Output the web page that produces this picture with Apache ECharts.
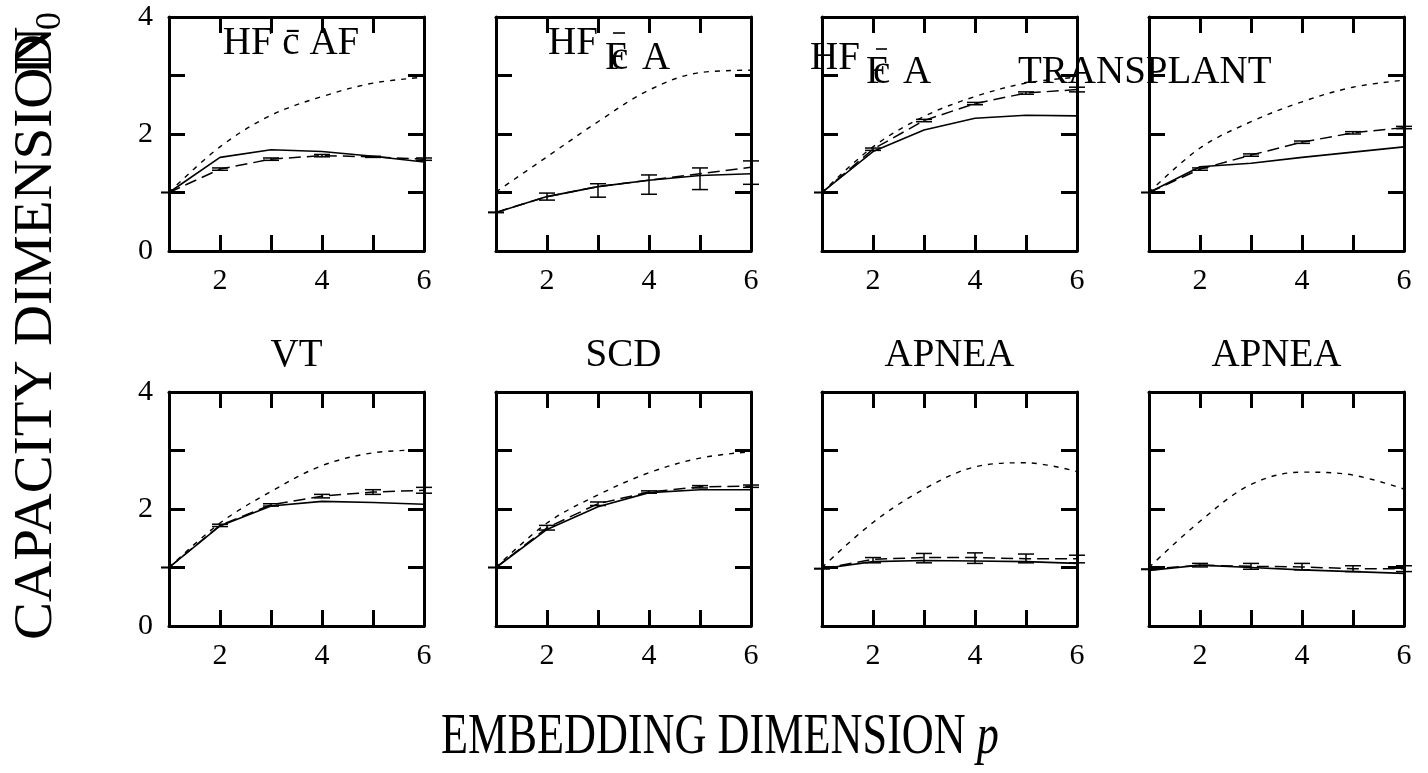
<!DOCTYPE html>
<html>
<head>
<meta charset="utf-8">
<script src="https://cdn.jsdelivr.net/npm/echarts@6/dist/echarts.min.js"></script>
<style>
html,body{margin:0;padding:0;background:#fff;}
#main{width:1428px;height:773px;}
</style>
</head>
<body>
<div id="main"></div>
<script>
// ---------------- data ----------------
const pValues = [1, 2, 3, 4, 5, 6];
const xTickLabels = ['2', '4', '6'];
const yTickLabels = ['0', '2', '4'];
const panelTitles = ['HF c\u0304 AF', 'HF c\u0304 A', 'HF c\u0304 A', 'TRANSPLANT', 'VT', 'SCD', 'APNEA', 'APNEA'];

// solid line (data)
const solidLines = [
  [1.00, 1.60, 1.73, 1.70, 1.62, 1.52],
  [0.66, 0.93, 1.10, 1.21, 1.29, 1.32],
  [1.00, 1.70, 2.07, 2.27, 2.32, 2.31],
  [1.00, 1.44, 1.50, 1.60, 1.69, 1.78],
  [1.00, 1.71, 2.05, 2.13, 2.11, 2.08],
  [1.00, 1.65, 2.04, 2.28, 2.33, 2.33],
  [0.98, 1.10, 1.12, 1.11, 1.10, 1.07],
  [0.95, 1.04, 1.00, 0.96, 0.93, 0.90]
];
// long-dashed line (surrogate mean)
const dashedLines = [
  [1.00, 1.40, 1.57, 1.63, 1.61, 1.57],
  [0.66, 0.93, 1.10, 1.21, 1.32, 1.43],
  [1.00, 1.74, 2.23, 2.52, 2.70, 2.76],
  [1.00, 1.40, 1.64, 1.86, 2.02, 2.11],
  [1.00, 1.72, 2.07, 2.22, 2.29, 2.32],
  [1.00, 1.68, 2.09, 2.29, 2.38, 2.39],
  [0.98, 1.14, 1.17, 1.17, 1.15, 1.15],
  [0.97, 1.04, 1.02, 1.01, 0.98, 0.98]
];
// error bar lower bounds
const errLow = [
  [0.995, 1.38, 1.55, 1.61, 1.60, 1.55],
  [0.655, 0.87, 0.92, 0.97, 1.05, 1.14],
  [0.995, 1.72, 2.21, 2.50, 2.68, 2.72],
  [0.995, 1.38, 1.62, 1.84, 2.00, 2.09],
  [0.995, 1.70, 2.05, 2.19, 2.25, 2.27],
  [0.995, 1.64, 2.06, 2.27, 2.36, 2.37],
  [0.975, 1.08, 1.08, 1.07, 1.08, 1.08],
  [0.965, 1.01, 0.97, 0.96, 0.93, 0.93]
];
// error bar upper bounds
const errHigh = [
  [1.005, 1.42, 1.59, 1.65, 1.62, 1.59],
  [0.665, 0.99, 1.15, 1.30, 1.42, 1.54],
  [1.005, 1.76, 2.25, 2.54, 2.72, 2.80],
  [1.005, 1.42, 1.66, 1.88, 2.04, 2.13],
  [1.005, 1.74, 2.09, 2.25, 2.33, 2.37],
  [1.005, 1.72, 2.12, 2.31, 2.40, 2.41],
  [0.985, 1.17, 1.24, 1.25, 1.23, 1.21],
  [0.975, 1.07, 1.07, 1.07, 1.03, 1.03]
];
// short-dashed line
const shortDashedLines = [
  [1.00, 1.78, 2.32, 2.64, 2.87, 2.97],
  [1.01, 1.61, 2.21, 2.75, 3.05, 3.09],
  [1.00, 1.78, 2.30, 2.64, 2.87, 2.97],
  [1.00, 1.76, 2.21, 2.55, 2.80, 2.92],
  [1.00, 1.76, 2.30, 2.74, 2.96, 3.01],
  [1.00, 1.76, 2.24, 2.62, 2.87, 2.98],
  [1.00, 1.77, 2.34, 2.72, 2.79, 2.64],
  [1.00, 1.79, 2.42, 2.63, 2.58, 2.34]
];
const xAxisTitle = 'EMBEDDING DIMENSION ';
const xAxisTitleVar = 'p';
const yAxisTitle = 'CAPACITY DIMENSION';
const yAxisTitleSym = 'D';
const yAxisTitleSub = '0';

// ---------------- layout ----------------
const FONT = "'Liberation Serif', 'DejaVu Serif', serif";
const lefts = [169, 496, 822, 1149];
const tops = [17, 392];
const W = 255, H = 234;

const grids = [], xAxes = [], yAxes = [], series = [];
for (let i = 0; i < 8; i++) {
  const col = i % 4, row = Math.floor(i / 4);
  grids.push({ left: lefts[col], top: tops[row], width: W, height: H, containLabel: false });
  const axLine = { show: true, onZero: false, lineStyle: { color: '#000', width: 3 } };
  const tick = { show: true, inside: true, length: 16, lineStyle: { color: '#000', width: 3 } };
  xAxes.push({
    type: 'value', gridIndex: i, position: 'bottom', min: 1, max: 6, interval: 1,
    axisLine: axLine, axisTick: tick, splitLine: { show: false },
    axisLabel: {
      show: true, margin: 15, color: '#000', fontFamily: FONT, fontSize: 30,
      showMinLabel: true, showMaxLabel: true,
      formatter: v => (xTickLabels.indexOf(String(v)) >= 0 ? String(v) : '')
    }
  });
  xAxes.push({
    type: 'value', gridIndex: i, position: 'top', min: 1, max: 6, interval: 1,
    axisLine: axLine, axisTick: tick, splitLine: { show: false }, axisLabel: { show: false }
  });
  yAxes.push({
    type: 'value', gridIndex: i, position: 'left', min: 0, max: 4, interval: 1,
    axisLine: axLine, axisTick: tick, splitLine: { show: false },
    axisLabel: {
      show: col === 0, margin: 16, color: '#000', fontFamily: FONT, fontSize: 30,
      showMinLabel: true, showMaxLabel: true,
      formatter: v => (yTickLabels.indexOf(String(v)) >= 0 ? String(v) : '')
    }
  });
  yAxes.push({
    type: 'value', gridIndex: i, position: 'right', min: 0, max: 4, interval: 1,
    axisLine: axLine, axisTick: tick, splitLine: { show: false }, axisLabel: { show: false }
  });
  const xi = 2 * i, yi = 2 * i;
  series.push({
    type: 'line', xAxisIndex: xi, yAxisIndex: yi, symbol: 'none', silent: true,
    data: pValues.map((p, k) => [p, shortDashedLines[i][k]]), smooth: 0.35,
    lineStyle: { color: '#000', width: 1.4, type: [5, 6] }, z: 3
  });
  series.push({
    type: 'line', xAxisIndex: xi, yAxisIndex: yi, symbol: 'none', silent: true,
    data: pValues.map((p, k) => [p, dashedLines[i][k]]),
    lineStyle: { color: '#000', width: 1.5, type: [12, 6] }, z: 3
  });
  series.push({
    type: 'line', xAxisIndex: xi, yAxisIndex: yi, symbol: 'none', silent: true,
    data: pValues.map((p, k) => [p, solidLines[i][k]]),
    lineStyle: { color: '#000', width: 1.6, type: 'solid' }, z: 3
  });
  series.push({
    type: 'custom', xAxisIndex: xi, yAxisIndex: yi, silent: true, clip: false, z: 4,
    data: pValues.map((p, k) => [p, errLow[i][k], errHigh[i][k]]),
    encode: { x: 0, y: [1, 2] },
    renderItem: function (params, api) {
      const lo = api.coord([api.value(0), api.value(1)]);
      const hi = api.coord([api.value(0), api.value(2)]);
      const hw = 8;
      const st = { stroke: '#000', lineWidth: 1.5 };
      return {
        type: 'group',
        children: [
          { type: 'line', shape: { x1: lo[0], y1: lo[1], x2: hi[0], y2: hi[1] }, style: st },
          { type: 'line', shape: { x1: lo[0] - hw, y1: lo[1], x2: lo[0] + hw, y2: lo[1] }, style: st },
          { type: 'line', shape: { x1: hi[0] - hw, y1: hi[1], x2: hi[0] + hw, y2: hi[1] }, style: st }
        ]
      };
    }
  });
}

// ---------------- titles (as text) ----------------
const TFS = 39;
const tfont = TFS + 'px ' + FONT;
function txt(s, x, y, align, extra) {
  return Object.assign({
    type: 'text', x: x, y: y, silent: true, z: 10,
    style: { text: s, font: tfont, fill: '#000', textAlign: align || 'left', textVerticalAlign: 'middle' }
  }, extra || {});
}
function bar(x1, x2, y) {
  return { type: 'line', silent: true, z: 10, shape: { x1: x1, y1: y, x2: x2, y2: y }, style: { stroke: '#000', lineWidth: 1.6 } };
}
const cBar = panelTitles[1].split(' ')[1];   // 'c̄'
const graphics = [
  // panel 1
  txt(panelTitles[0], 291, 44, 'center'),
  // panel 2 (overlapping pieces as in the original)
  txt(panelTitles[1].split(' ')[0], 548, 44),
  txt('F', 605, 59),
  txt(cBar.charAt(0), 611, 59),
  bar(613, 625, 33),
  txt(panelTitles[1].split(' ')[2], 642, 59),
  // panel 3
  txt(panelTitles[2].split(' ')[0], 810, 59),
  txt('F', 866, 73),
  txt(cBar.charAt(0), 873, 73),
  bar(876, 887, 49),
  txt(panelTitles[2].split(' ')[2], 903, 73),
  // panel 4 title (spills into panel 3)
  txt(panelTitles[3], 1018, 73),
  // bottom row
  txt(panelTitles[4], lefts[0] + W / 2, 356, 'center'),
  txt(panelTitles[5], lefts[1] + W / 2, 356, 'center'),
  txt(panelTitles[6], lefts[2] + W / 2, 356, 'center'),
  txt(panelTitles[7], lefts[3] + W / 2, 356, 'center'),
  // x axis title
  {
    type: 'text', x: 720, y: 738, scaleX: 0.79, silent: true, z: 10,
    style: {
      text: '{a|' + xAxisTitle + '}{b|' + xAxisTitleVar + '}',
      textAlign: 'center', textVerticalAlign: 'middle',
      rich: {
        a: { fontFamily: FONT, fontSize: 56, fill: '#000', color: '#000' },
        b: { fontFamily: FONT, fontSize: 56, fontStyle: 'italic', fill: '#000', color: '#000' }
      }
    }
  },
  // y axis title (rotated)
  {
    type: 'text', x: 37, y: 640, rotation: Math.PI / 2, scaleX: 1.055, silent: true, z: 10,
    style: { text: yAxisTitle, font: '54px ' + FONT, fill: '#000', textAlign: 'left', textVerticalAlign: 'middle' }
  },
  {
    type: 'text', x: 37, y: 75, rotation: Math.PI / 2, scaleX: 1.055, silent: true, z: 10,
    style: { text: yAxisTitleSym, font: '54px ' + FONT, fill: '#000', textAlign: 'left', textVerticalAlign: 'middle' }
  },
  {
    type: 'text', x: 51, y: 30, rotation: Math.PI / 2, silent: true, z: 10,
    style: { text: yAxisTitleSub, font: '36px ' + FONT, fill: '#000', textAlign: 'left', textVerticalAlign: 'middle' }
  }
];

const chart = echarts.init(document.getElementById('main'), null, { renderer: 'canvas' });
chart.setOption({
  backgroundColor: '#fff',
  animation: false,
  grid: grids,
  xAxis: xAxes,
  yAxis: yAxes,
  series: series,
  graphic: graphics
});
</script>
</body>
</html>
